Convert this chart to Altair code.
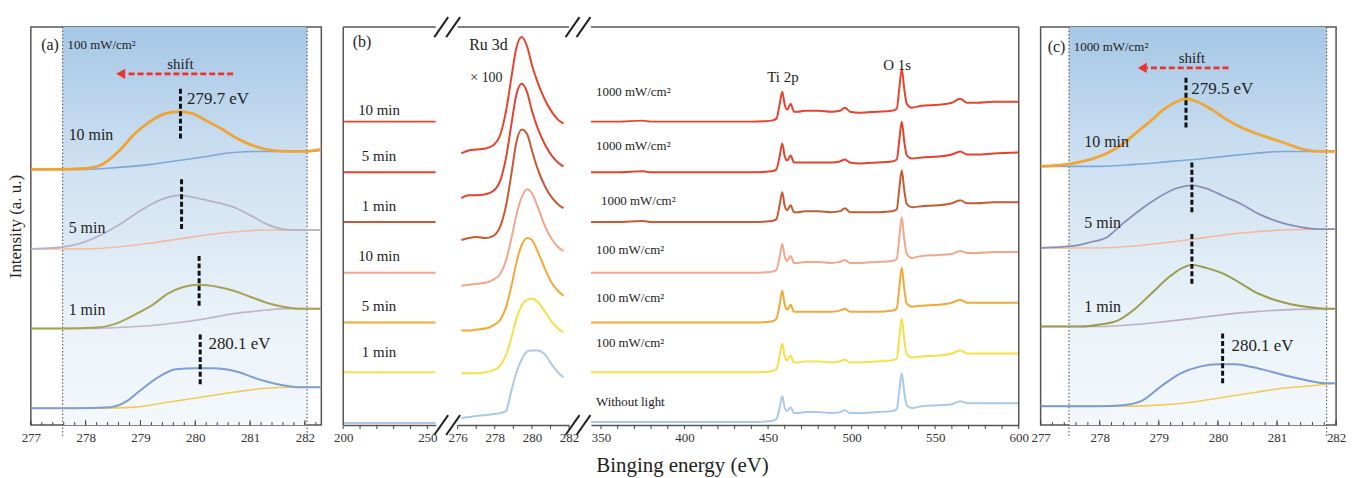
import altair as alt
import pandas as pd

FONT = "Liberation Serif"
H = 400
TXT = "#222222"
FRAME = "#555555"
RED = "#e8342c"

# ---------------- Panel (a): 100 mW/cm2, Ru 3d fits ----------------
A_XDOM = [277, 282.3]
A_BAND = [277.58, 282.04]
A10_E = [277.0, 277.5, 278.0, 278.3, 278.6, 278.9, 279.2, 279.45, 279.7, 279.95, 280.2, 280.5, 280.8, 281.1, 281.4, 281.7, 282.0, 282.3]
A10_I = [257, 257, 258, 262, 275, 293, 306, 313, 315, 313, 306, 297, 287, 280, 276, 275, 275, 277]
A10B_E = [277.0, 278.0, 278.6, 279.2, 279.7, 280.2, 280.7, 281.2, 281.7, 282.3]
A10B_I = [257, 257, 259, 262, 266, 270, 274, 275, 275, 276]
A5_E = [277.0, 277.4, 277.8, 278.2, 278.6, 278.9, 279.2, 279.45, 279.7, 279.95, 280.2, 280.45, 280.7, 281.0, 281.3, 281.6, 281.9, 282.3]
A5_I = [177, 178, 181, 189, 201, 212, 222, 228, 231, 229, 226, 223, 219, 211, 202, 197, 196, 196]
A5B_E = [277.0, 278.0, 278.6, 279.2, 279.7, 280.2, 280.7, 281.2, 282.3]
A5B_I = [177, 177, 179, 183, 187, 191, 194, 196, 196]
A1_E = [277.0, 277.6, 278.2, 278.6, 278.9, 279.2, 279.5, 279.8, 280.07, 280.4, 280.7, 281.0, 281.3, 281.6, 281.9, 282.3]
A1_I = [97, 97, 98, 103, 111, 120, 132, 139, 141, 139, 135, 129, 123, 119, 117, 117]
A1B_E = [277.0, 278.0, 278.6, 279.2, 279.7, 280.2, 280.7, 281.2, 281.7, 282.3]
A1B_I = [97, 97, 98, 100, 103, 107, 112, 115, 117, 117]
A0_E = [277.0, 277.8, 278.45, 278.75, 279.0, 279.35, 279.65, 280.0, 280.3, 280.55, 280.8, 281.05, 281.35, 281.6, 281.9, 282.3]
A0_I = [17, 17, 18, 24, 35, 49, 56, 57, 57, 56, 53, 48, 43, 40, 38, 38]
A0B_E = [277.0, 278.3, 278.9, 279.5, 280.1, 280.7, 281.3, 281.8, 282.3]
A0B_I = [17, 17, 18, 23, 28, 33, 37, 38, 38]
A_COLORS = ["#7fa7d8", "#f0a232", "#f4b9a0", "#b8b1ca", "#c3b4c7", "#a8a255", "#f2cb55", "#7d9fd6"]
A_DASH_X = [279.73, 279.75, 280.07, 280.09]
A_DASH_Y1 = [338, 247, 170, 91]
A_DASH_Y2 = [288, 196, 120, 40]
A_ARROW = [280.69, 278.75, 278.64, 353]   # tail, dash end, head, level
A_TXT_LEFT = ["100 mW/cm²", "279.7 eV", "10 min", "5 min", "1 min", "280.1 eV"]
A_TXT_LEFT_X = [277.67, 279.85, 277.69, 277.69, 277.69, 280.24]
A_TXT_LEFT_Y = [382, 328, 292, 198, 116, 81]
A_TXT_LEFT_FS = [13, 17, 16, 16, 16, 17]
A_TXT_CEN = ["(a)", "shift"]
A_TXT_CEN_X = [277.35, 279.73]
A_TXT_CEN_Y = [382, 363]
A_TXT_CEN_FS = [16, 15]

# ---------------- Panel (c): 1000 mW/cm2 ----------------
C_XDOM = [277, 282]
C_BAND = [277.48, 281.84]
C10_E = [277.0, 277.55, 277.9, 278.15, 278.4, 278.6, 278.85, 279.1, 279.3, 279.46, 279.65, 279.9, 280.15, 280.4, 280.65, 280.95, 281.2, 281.45, 281.7, 282.0]
C10_I = [260, 263, 268, 274, 283, 293, 305, 318, 325, 328, 325, 317, 307, 299, 293, 287, 282, 277, 275, 275]
C10B_E = [277.0, 278.0, 278.6, 279.2, 279.6, 280.1, 280.6, 281.1, 282.0]
C10B_I = [260, 260, 262, 265, 267, 270, 273, 275, 275]
C5_E = [277.0, 277.55, 277.85, 278.1, 278.4, 278.7, 279.0, 279.3, 279.56, 279.8, 280.1, 280.4, 280.7, 281.1, 281.4, 281.7, 282.0]
C5_I = [178, 180, 184, 188, 203, 217, 229, 238, 241, 238, 230, 222, 212, 203, 199, 197, 197]
C5B_E = [277.0, 278.0, 278.6, 279.2, 279.6, 280.1, 280.6, 281.1, 282.0]
C5B_I = [178, 178, 180, 184, 187, 191, 194, 196, 197]
C1_E = [277.0, 277.7, 278.0, 278.3, 278.6, 278.87, 279.2, 279.4, 279.56, 279.8, 280.1, 280.4, 280.65, 280.9, 281.2, 281.5, 281.8, 282.0]
C1_I = [99, 99, 101, 105, 117, 132, 150, 158, 161, 158, 152, 142, 133, 127, 122, 119, 117, 117]
C1B_E = [277.0, 278.0, 278.6, 279.1, 279.55, 280.1, 280.65, 281.2, 282.0]
C1B_I = [99, 99, 101, 104, 107, 111, 114, 116, 117]
C0_E = [277.0, 278.0, 278.4, 278.7, 279.04, 279.37, 279.71, 280.0, 280.3, 280.6, 280.94, 281.2, 281.5, 281.8, 282.0]
C0_I = [19, 19, 20, 24, 39, 52, 59, 61, 61, 58, 53, 49, 45, 42, 42]
C0B_E = [277.0, 278.5, 279.0, 279.55, 280.1, 280.65, 281.1, 281.5, 282.0]
C0B_I = [19, 19, 20, 23, 28, 33, 37, 39, 42]
C_COLORS = ["#7fa8d8", "#f0a535", "#f3b89e", "#8c8eb8", "#bdb0c4", "#9c9b4c", "#f1cc5a", "#7b9bd6"]
C_DASH_X = [279.46, 279.56, 279.56, 280.08]
C_DASH_Y1 = [349, 264, 192, 92]
C_DASH_Y2 = [298, 213, 141, 41]
C_ARROW = [280.18, 278.8, 278.72, 359]
C_TXT_LEFT = ["1000 mW/cm²", "279.5 eV", "10 min", "5 min", "1 min", "280.1 eV"]
C_TXT_LEFT_X = [277.56, 279.55, 277.74, 277.74, 277.74, 280.23]
C_TXT_LEFT_Y = [380, 338, 284, 203, 119, 79]
C_TXT_LEFT_FS = [13, 17, 16, 16, 16, 17]
C_TXT_CEN = ["(c)", "shift"]
C_TXT_CEN_X = [277.27, 279.56]
C_TXT_CEN_Y = [380, 369]
C_TXT_CEN_FS = [16, 15]

# ---------------- Panel (b): survey with broken axis ----------------
B_COLORS = ["#e8432c", "#e2432f", "#c65a33", "#f2a68c", "#f2a935", "#f6e04a", "#a9c8ea"]
# segment 1 (200-255 eV): flat levels
B1_E = [200, 255]
B1_LEVEL = [305, 254, 204, 153, 103, 53, 2]
B1_LABELS = ["10 min", "5 min", "1 min", "10 min", "5 min", "1 min"]
B1_LABEL_Y = [317, 270, 220, 170, 120, 73]
# segment 2 (Ru 3d x100)
B2_E = [276.2, 276.6, 277.0, 277.5, 277.9, 278.3, 278.6, 278.9, 279.15, 279.45, 279.75, 280.0, 280.3, 280.7, 281.1, 281.4, 281.7]
B2_C1 = [273, 276, 277, 278, 281, 292, 315, 350, 378, 390, 380, 362, 345, 327, 314, 307, 303]
B2_C2 = [228, 231, 231, 232, 235, 246, 268, 303, 331, 343, 334, 316, 299, 282, 270, 264, 260]
B2_C3 = [186, 188, 189, 188, 190, 200, 220, 253, 283, 297, 292, 276, 258, 240, 228, 222, 218]
B2_C4 = [140, 141, 142, 143, 146, 152, 165, 188, 210, 229, 237, 233, 220, 200, 186, 179, 175]
B2_C5 = [95, 95, 96, 97, 100, 106, 118, 140, 162, 181, 188, 186, 175, 157, 142, 135, 130]
B2_C6 = [52, 52, 52, 53, 55, 60, 70, 88, 106, 120, 126, 127, 124, 114, 103, 97, 93]
B2_C7 = [7, 8, 9, 10, 11, 12, 14, 35, 52, 66, 74, 75, 75, 71, 60, 53, 48]
# segment 3 (344-600 eV): offsets above each baseline
B3_E = [344, 360, 375, 380, 400, 420, 440, 452, 455, 457, 458.5, 460, 461.5, 463.5, 465.5, 468, 472, 480, 488, 493, 496, 499, 505, 515, 524, 527, 528.5, 530, 531.5, 533, 536, 542, 552, 560, 565, 569, 575, 585, 600]
B3_BASE = [305, 254, 204, 153, 103, 53, 3]
B3_C1 = [0, 0, 1, 0, 0, 0, 0, 1, 3, 18, 30, 17, 12, 18, 10, 10, 11, 11, 10, 11, 14, 10, 9, 10, 11, 13, 33, 53, 33, 18, 14, 16, 17, 19, 23, 19, 19, 20, 20]
B3_C2 = [0, 0, 1, 0, 0, 0, 0, 1, 3, 17, 29, 16, 12, 17, 10, 10, 10, 10, 10, 11, 13, 10, 9, 10, 11, 13, 32, 51, 31, 17, 14, 15, 16, 18, 21, 18, 18, 19, 20]
B3_C3 = [0, 0, 1, 0, 0, 0, 0, 1, 3, 18, 30, 16, 12, 17, 10, 10, 11, 11, 10, 11, 14, 10, 10, 10, 11, 13, 33, 52, 32, 18, 15, 16, 17, 19, 22, 19, 19, 20, 20]
B3_C4 = [0, 0, 0, 0, 0, 0, 0, 1, 3, 17, 29, 16, 12, 17, 10, 10, 11, 11, 10, 11, 13, 10, 10, 11, 12, 14, 35, 56, 34, 19, 15, 17, 18, 19, 22, 20, 20, 21, 21]
B3_C5 = [0, 0, 0, 0, 0, 0, 0, 1, 4, 19, 32, 18, 13, 18, 11, 11, 11, 11, 11, 12, 14, 11, 11, 11, 12, 14, 35, 55, 34, 19, 16, 17, 18, 20, 23, 20, 20, 20, 20]
B3_C6 = [0, 0, 0, 0, 0, 0, 0, 1, 3, 17, 29, 16, 12, 17, 10, 10, 11, 11, 10, 11, 13, 10, 10, 11, 12, 14, 34, 54, 33, 18, 15, 16, 17, 19, 22, 19, 19, 19, 19]
B3_C7 = [0, 0, 0, 0, 0, 0, 0, 1, 3, 15, 26, 14, 11, 15, 9, 9, 10, 10, 9, 10, 12, 9, 9, 10, 11, 13, 31, 49, 30, 17, 14, 16, 17, 18, 21, 19, 19, 19, 19]
B3_LABELS = ["1000 mW/cm²", "1000 mW/cm²", "1000 mW/cm²", "100 mW/cm²", "100 mW/cm²", "100 mW/cm²", "Without light"]
B3_LABEL_X = [347, 347, 350, 347, 347, 347, 347]
B3_LABEL_Y = [335, 280, 225, 176, 128, 82, 23]

GRAD = {"gradient": "linear", "x1": 0, "x2": 0, "y1": 0, "y2": 1,
        "stops": [{"offset": 0, "color": "#a5c7e6"}, {"offset": 0.35, "color": "#cfe1f1"},
                  {"offset": 0.7, "color": "#e8f1f8"}, {"offset": 1, "color": "#f4f8fc"}]}


def series_df(series):
    rows = []
    for k, (xs, ys, col, w) in enumerate(series):
        for x, y in zip(xs, ys):
            rows.append({"s": k, "x": x, "y": y, "c": col, "w": w})
    return pd.DataFrame(rows)


def text_df(t, xs, ys, fs):
    return pd.DataFrame({"t": t, "x": xs, "y": ys, "fs": fs})


def make_enc(xdom, xvals, yaxis):
    xs = alt.Scale(domain=xdom, nice=False, zero=False)
    ys = alt.Scale(domain=[0, H], nice=False, zero=False)
    xax = alt.Axis(values=xvals, format="d", ticks=False, tickSize=0, domain=False, grid=False,
                   labelFont=FONT, labelFontSize=13, labelColor="#333333", labelPadding=7,
                   labelFlush=False, labelOverlap=False, title=None)
    X = lambda f: alt.X(f, type="quantitative", scale=xs, axis=xax)
    Y = lambda f: alt.Y(f, type="quantitative", scale=ys, axis=yaxis)
    return X, Y


def side_panel(width, xdom, band, series, dx, dy1, dy2, arrow, tl, tc, yaxis):
    major = list(range(int(xdom[0]), int(xdom[1]) + 1))
    minor = [round(xdom[0] + 0.2 * i, 1) for i in range(int((xdom[1] - xdom[0]) / 0.2) + 1)]
    X, Y = make_enc(xdom, major, yaxis)
    band_df = pd.DataFrame({"x1": [band[0]], "x2": [band[1]], "y1": [H], "y2": [0]})
    rect = alt.Chart(band_df).mark_rect(fill=GRAD).encode(x=X("x1"), x2="x2:Q", y=Y("y1"), y2="y2:Q")
    dots = alt.Chart(pd.DataFrame({"x": band})).mark_rule(
        color="#555555", strokeWidth=1.1, strokeDash=[1.5, 2]).encode(
        x=X("x"), y=alt.value(0), y2=alt.value(H + 12))
    lines = alt.Chart(series_df(series)).mark_line(interpolate="monotone", clip=True).encode(
        x=X("x"), y=Y("y"), detail="s:N", color=alt.Color("c:N", scale=None),
        size=alt.Size("w:Q", scale=None), order="x:Q")
    dash = alt.Chart(pd.DataFrame({"x": dx, "y1": dy1, "y2": dy2})).mark_rule(
        color="#111111", strokeWidth=3, strokeDash=[5, 2.5]).encode(x=X("x"), y=Y("y1"), y2="y2:Q")
    arr = alt.Chart(pd.DataFrame({"x1": [arrow[0]], "x2": [arrow[1]], "y": [arrow[3]]})).mark_rule(
        color=RED, strokeWidth=2.6, strokeDash=[6, 3]).encode(x=X("x1"), x2="x2:Q", y=Y("y"))
    head = alt.Chart(pd.DataFrame({"x": [arrow[2]], "y": [arrow[3]]})).mark_point(
        shape="triangle-left", filled=True, size=110, color=RED, opacity=1, strokeWidth=0).encode(
        x=X("x"), y=Y("y"))
    tleft = alt.Chart(text_df(*tl)).mark_text(font=FONT, align="left", baseline="middle", color=TXT).encode(
        x=X("x"), y=Y("y"), text="t:N", size=alt.Size("fs:Q", scale=None))
    tcen = alt.Chart(text_df(*tc)).mark_text(font=FONT, align="center", baseline="middle", color=TXT).encode(
        x=X("x"), y=Y("y"), text="t:N", size=alt.Size("fs:Q", scale=None))
    tmaj = alt.Chart(pd.DataFrame({"t": major})).mark_rule(color="#444444", strokeWidth=1).encode(
        x=X("t"), y=alt.value(H), y2=alt.value(H - 5))
    tmin = alt.Chart(pd.DataFrame({"t": minor})).mark_rule(color="#444444", strokeWidth=1).encode(
        x=X("t"), y=alt.value(H), y2=alt.value(H - 3))
    return alt.layer(rect, dots, lines, dash, arr, head, tleft, tcen, tmaj, tmin).properties(
        width=width, height=H)


ONE = pd.DataFrame({"a": [0]})


def frame_rule(**enc):
    return alt.Chart(ONE).mark_rule(color=FRAME, strokeWidth=1.5).encode(**enc)


def slash(x1, y1, x2, y2):
    return alt.Chart(ONE).mark_rule(color="#222222", strokeWidth=2).encode(
        x=alt.value(x1), y=alt.value(y1), x2=alt.value(x2), y2=alt.value(y2))


def b_panel(width, xdom, xvals, major, minor, series, extra):
    xs = alt.Scale(domain=xdom, nice=False, zero=False)
    ys = alt.Scale(domain=[0, H], nice=False, zero=False)
    xax = alt.Axis(values=xvals, format="d", ticks=False, tickSize=0, domain=True, domainColor=FRAME,
                   domainWidth=1.5, grid=False, labelFont=FONT, labelFontSize=13, labelColor="#333333",
                   labelPadding=7, labelFlush=False, labelOverlap=False, title=None)
    X = lambda f: alt.X(f, type="quantitative", scale=xs, axis=xax)
    Y = lambda f: alt.Y(f, type="quantitative", scale=ys, axis=None)
    lines = alt.Chart(series_df(series)).mark_line(interpolate="monotone", clip=True).encode(
        x=X("x"), y=Y("y"), detail="s:N", color=alt.Color("c:N", scale=None),
        size=alt.Size("w:Q", scale=None), order="x:Q")
    tmaj = alt.Chart(pd.DataFrame({"t": major + minor})).mark_rule(color="#444444", strokeWidth=1).encode(
        x=X("t"), y=alt.value(H), y2=alt.value(H + 4))
    top = frame_rule(x=alt.value(0), x2=alt.value(width), y=alt.value(0))
    layers = [lines, tmaj, top] + [f(X, Y) for f in extra]
    return alt.layer(*layers).properties(width=width, height=H,
                                         view=alt.ViewBackground(stroke="transparent"))


# ---- build panel a ----
a_series = [
    (A10B_E, A10B_I, A_COLORS[0], 1.6), (A10_E, A10_I, A_COLORS[1], 2.8),
    (A5B_E, A5B_I, A_COLORS[2], 1.6), (A5_E, A5_I, A_COLORS[3], 1.8),
    (A1B_E, A1B_I, A_COLORS[4], 1.6), (A1_E, A1_I, A_COLORS[5], 2.0),
    (A0B_E, A0B_I, A_COLORS[6], 1.6), (A0_E, A0_I, A_COLORS[7], 2.0),
]
yaxis_a = alt.Axis(labels=False, ticks=False, domain=False, grid=False, title="Intensity (a. u.)",
                   titleFont=FONT, titleFontSize=17, titleFontWeight="normal", titleColor=TXT,
                   titlePadding=6)
panel_a = side_panel(292, A_XDOM, A_BAND, a_series, A_DASH_X, A_DASH_Y1, A_DASH_Y2, A_ARROW,
                     (A_TXT_LEFT, A_TXT_LEFT_X, A_TXT_LEFT_Y, A_TXT_LEFT_FS),
                     (A_TXT_CEN, A_TXT_CEN_X, A_TXT_CEN_Y, A_TXT_CEN_FS), yaxis_a)

c_series = [
    (C10B_E, C10B_I, C_COLORS[0], 1.6), (C10_E, C10_I, C_COLORS[1], 2.8),
    (C5B_E, C5B_I, C_COLORS[2], 1.6), (C5_E, C5_I, C_COLORS[3], 1.8),
    (C1B_E, C1B_I, C_COLORS[4], 1.6), (C1_E, C1_I, C_COLORS[5], 2.0),
    (C0B_E, C0B_I, C_COLORS[6], 1.6), (C0_E, C0_I, C_COLORS[7], 2.0),
]
panel_c = side_panel(297, C_XDOM, C_BAND, c_series, C_DASH_X, C_DASH_Y1, C_DASH_Y2, C_ARROW,
                     (C_TXT_LEFT, C_TXT_LEFT_X, C_TXT_LEFT_Y, C_TXT_LEFT_FS),
                     (C_TXT_CEN, C_TXT_CEN_X, C_TXT_CEN_Y, C_TXT_CEN_FS), None)

# ---- panel b segment 1 ----
b1_series = [(B1_E, [lv, lv], B_COLORS[i], 2.0) for i, lv in enumerate(B1_LEVEL)]


def b1_extra_text(X, Y):
    df = pd.DataFrame({"t": B1_LABELS, "x": [221.3] * len(B1_LABELS), "y": B1_LABEL_Y})
    return alt.Chart(df).mark_text(font=FONT, fontSize=15, align="center", baseline="middle", color=TXT).encode(
        x=X("x"), y=Y("y"), text="t:N")


def b1_extra_b(X, Y):
    return alt.Chart(pd.DataFrame({"t": ["(b)"], "x": [211.2], "y": [385]})).mark_text(
        font=FONT, fontSize=16, align="center", baseline="middle", color=TXT).encode(
        x=X("x"), y=Y("y"), text="t:N")


def b1_left(X, Y):
    return frame_rule(x=alt.value(0), y=alt.value(0), y2=alt.value(H))


panel_b1 = b_panel(93, [200, 255], [200, 250], [200, 250], [210, 220, 230, 240], b1_series,
                   [b1_extra_text, b1_extra_b, b1_left])

# ---- panel b segment 2 ----
b2_series = [(B2_E, c, B_COLORS[i], 2.0) for i, c in
             enumerate([B2_C1, B2_C2, B2_C3, B2_C4, B2_C5, B2_C6, B2_C7])]


def b2_text(X, Y):
    df = pd.DataFrame({"t": ["Ru 3d", "× 100"], "x": [277.66, 277.55], "y": [382, 349], "fs": [16, 14]})
    return alt.Chart(df).mark_text(font=FONT, align="center", baseline="middle", color=TXT).encode(
        x=X("x"), y=Y("y"), text="t:N", size=alt.Size("fs:Q", scale=None))


SLASH_CX = [-16.5, -4.5, 115.5, 126.5]


def make_slash(cx, base):
    return lambda X, Y: slash(cx - 7, base + 10, cx + 7, base - 10)


b2_extra = [b2_text] + [make_slash(cx, 0) for cx in SLASH_CX] + [make_slash(cx, H) for cx in SLASH_CX]
panel_b2 = b_panel(112, [276, 282], [276, 278, 280, 282], [276, 278, 280, 282], [277, 279, 281],
                   b2_series, b2_extra)

# ---- panel b segment 3 ----
b3_series = []
for i, offs in enumerate([B3_C1, B3_C2, B3_C3, B3_C4, B3_C5, B3_C6, B3_C7]):
    b3_series.append((B3_E, [B3_BASE[i] + o for o in offs], B_COLORS[i], 2.0))


def b3_labels(X, Y):
    df = pd.DataFrame({"t": B3_LABELS, "x": B3_LABEL_X, "y": B3_LABEL_Y})
    return alt.Chart(df).mark_text(font=FONT, fontSize=13, align="left", baseline="middle", color=TXT).encode(
        x=X("x"), y=Y("y"), text="t:N")


def b3_peaks(X, Y):
    df = pd.DataFrame({"t": ["Ti 2p", "O 1s"], "x": [458.9, 527.3], "y": [350, 362]})
    return alt.Chart(df).mark_text(font=FONT, fontSize=15, align="center", baseline="middle", color=TXT).encode(
        x=X("x"), y=Y("y"), text="t:N")


def b3_title(X, Y):
    df = pd.DataFrame({"t": ["Binging energy (eV)"], "x": [398.8], "y": [-41]})
    return alt.Chart(df).mark_text(font=FONT, fontSize=21, align="center", baseline="middle", color=TXT).encode(
        x=X("x"), y=Y("y"), text="t:N")


def b3_right(X, Y):
    return frame_rule(x=alt.value(430), y=alt.value(0), y2=alt.value(H))


panel_b3 = b_panel(430, [344, 600], [350, 400, 450, 500, 550, 600], [350, 400, 450, 500, 550, 600],
                   [v for v in range(360, 600, 10) if v % 50 != 0], b3_series,
                   [b3_labels, b3_peaks, b3_title, b3_right])

chart = alt.hconcat(panel_a, panel_b1, panel_b2, panel_b3, panel_c, spacing=22, bounds="flush").resolve_scale(
    x="independent", y="independent").properties(
    padding={"left": 6, "top": 14, "right": 5, "bottom": 5}, background="white").configure_view(
    stroke=FRAME, strokeWidth=1.5)

chart.save("out.html", embed_options={"renderer": "svg", "actions": False})
